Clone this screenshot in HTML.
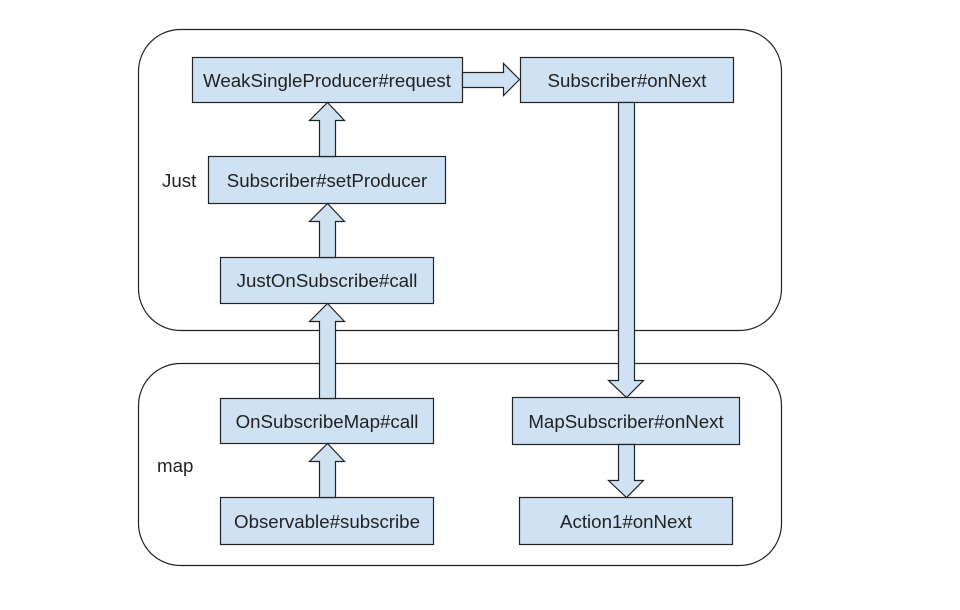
<!DOCTYPE html>
<html><head><style>
body{margin:0;background:#fff;width:960px;height:605px;overflow:hidden}
svg text{font-family:"Liberation Sans",Arial,sans-serif;font-size:18.7px;fill:#222}
</style></head><body>
<svg width="960" height="605" xmlns="http://www.w3.org/2000/svg">
<g fill="none" stroke="#222" stroke-width="1.2">
<rect x="138.5" y="29.5" width="643" height="301" rx="42"/>
<rect x="138.5" y="363.5" width="643" height="202" rx="42"/>
</g>
<g fill="#cfe2f3" stroke="#222" stroke-width="1.2">
<rect x="192.5" y="57.5" width="270" height="45"/>
<rect x="520.5" y="57.5" width="213" height="45"/>
<rect x="208.5" y="156.5" width="237" height="47"/>
<rect x="220.5" y="257.5" width="213" height="46"/>
<rect x="220.5" y="398.5" width="213" height="45"/>
<rect x="220.5" y="497.5" width="213" height="47"/>
<rect x="512.5" y="397.5" width="227" height="47"/>
<rect x="519.5" y="497.5" width="213" height="47"/>
<polygon points="462.5,72.5 503.5,72.5 503.5,63.5 519.5,79.5 503.5,95.5 503.5,87.5 462.5,87.5"/>
<polygon points="319.5,156.5 319.5,120.5 309.5,120.5 327.5,102.5 344.5,120.5 335.5,120.5 335.5,156.5"/>
<polygon points="319.5,257.5 319.5,221.5 309.5,221.5 327.5,203.5 344.5,221.5 335.5,221.5 335.5,257.5"/>
<polygon points="319.5,398.5 319.5,321.5 309.5,321.5 327.5,303.5 344.5,321.5 335.5,321.5 335.5,398.5"/>
<polygon points="319.5,497.5 319.5,461.5 309.5,461.5 327.5,443.5 344.5,461.5 335.5,461.5 335.5,497.5"/>
<polygon points="618.5,102.5 634.5,102.5 634.5,380.5 643.5,380.5 626.5,397.5 608.5,380.5 618.5,380.5"/>
<polygon points="618.5,444.5 634.5,444.5 634.5,480.5 643.5,480.5 626.5,497.5 608.5,480.5 618.5,480.5"/>
</g>
<g text-anchor="middle">
<text x="327" y="87">WeakSingleProducer#request</text>
<text x="627" y="87">Subscriber#onNext</text>
<text x="327" y="187">Subscriber#setProducer</text>
<text x="327" y="287">JustOnSubscribe#call</text>
<text x="327" y="428">OnSubscribeMap#call</text>
<text x="327" y="528">Observable#subscribe</text>
<text x="626" y="428">MapSubscriber#onNext</text>
<text x="626" y="528">Action1#onNext</text>
</g>
<text x="162" y="187">Just</text>
<text x="157" y="472">map</text>
</svg>
</body></html>
